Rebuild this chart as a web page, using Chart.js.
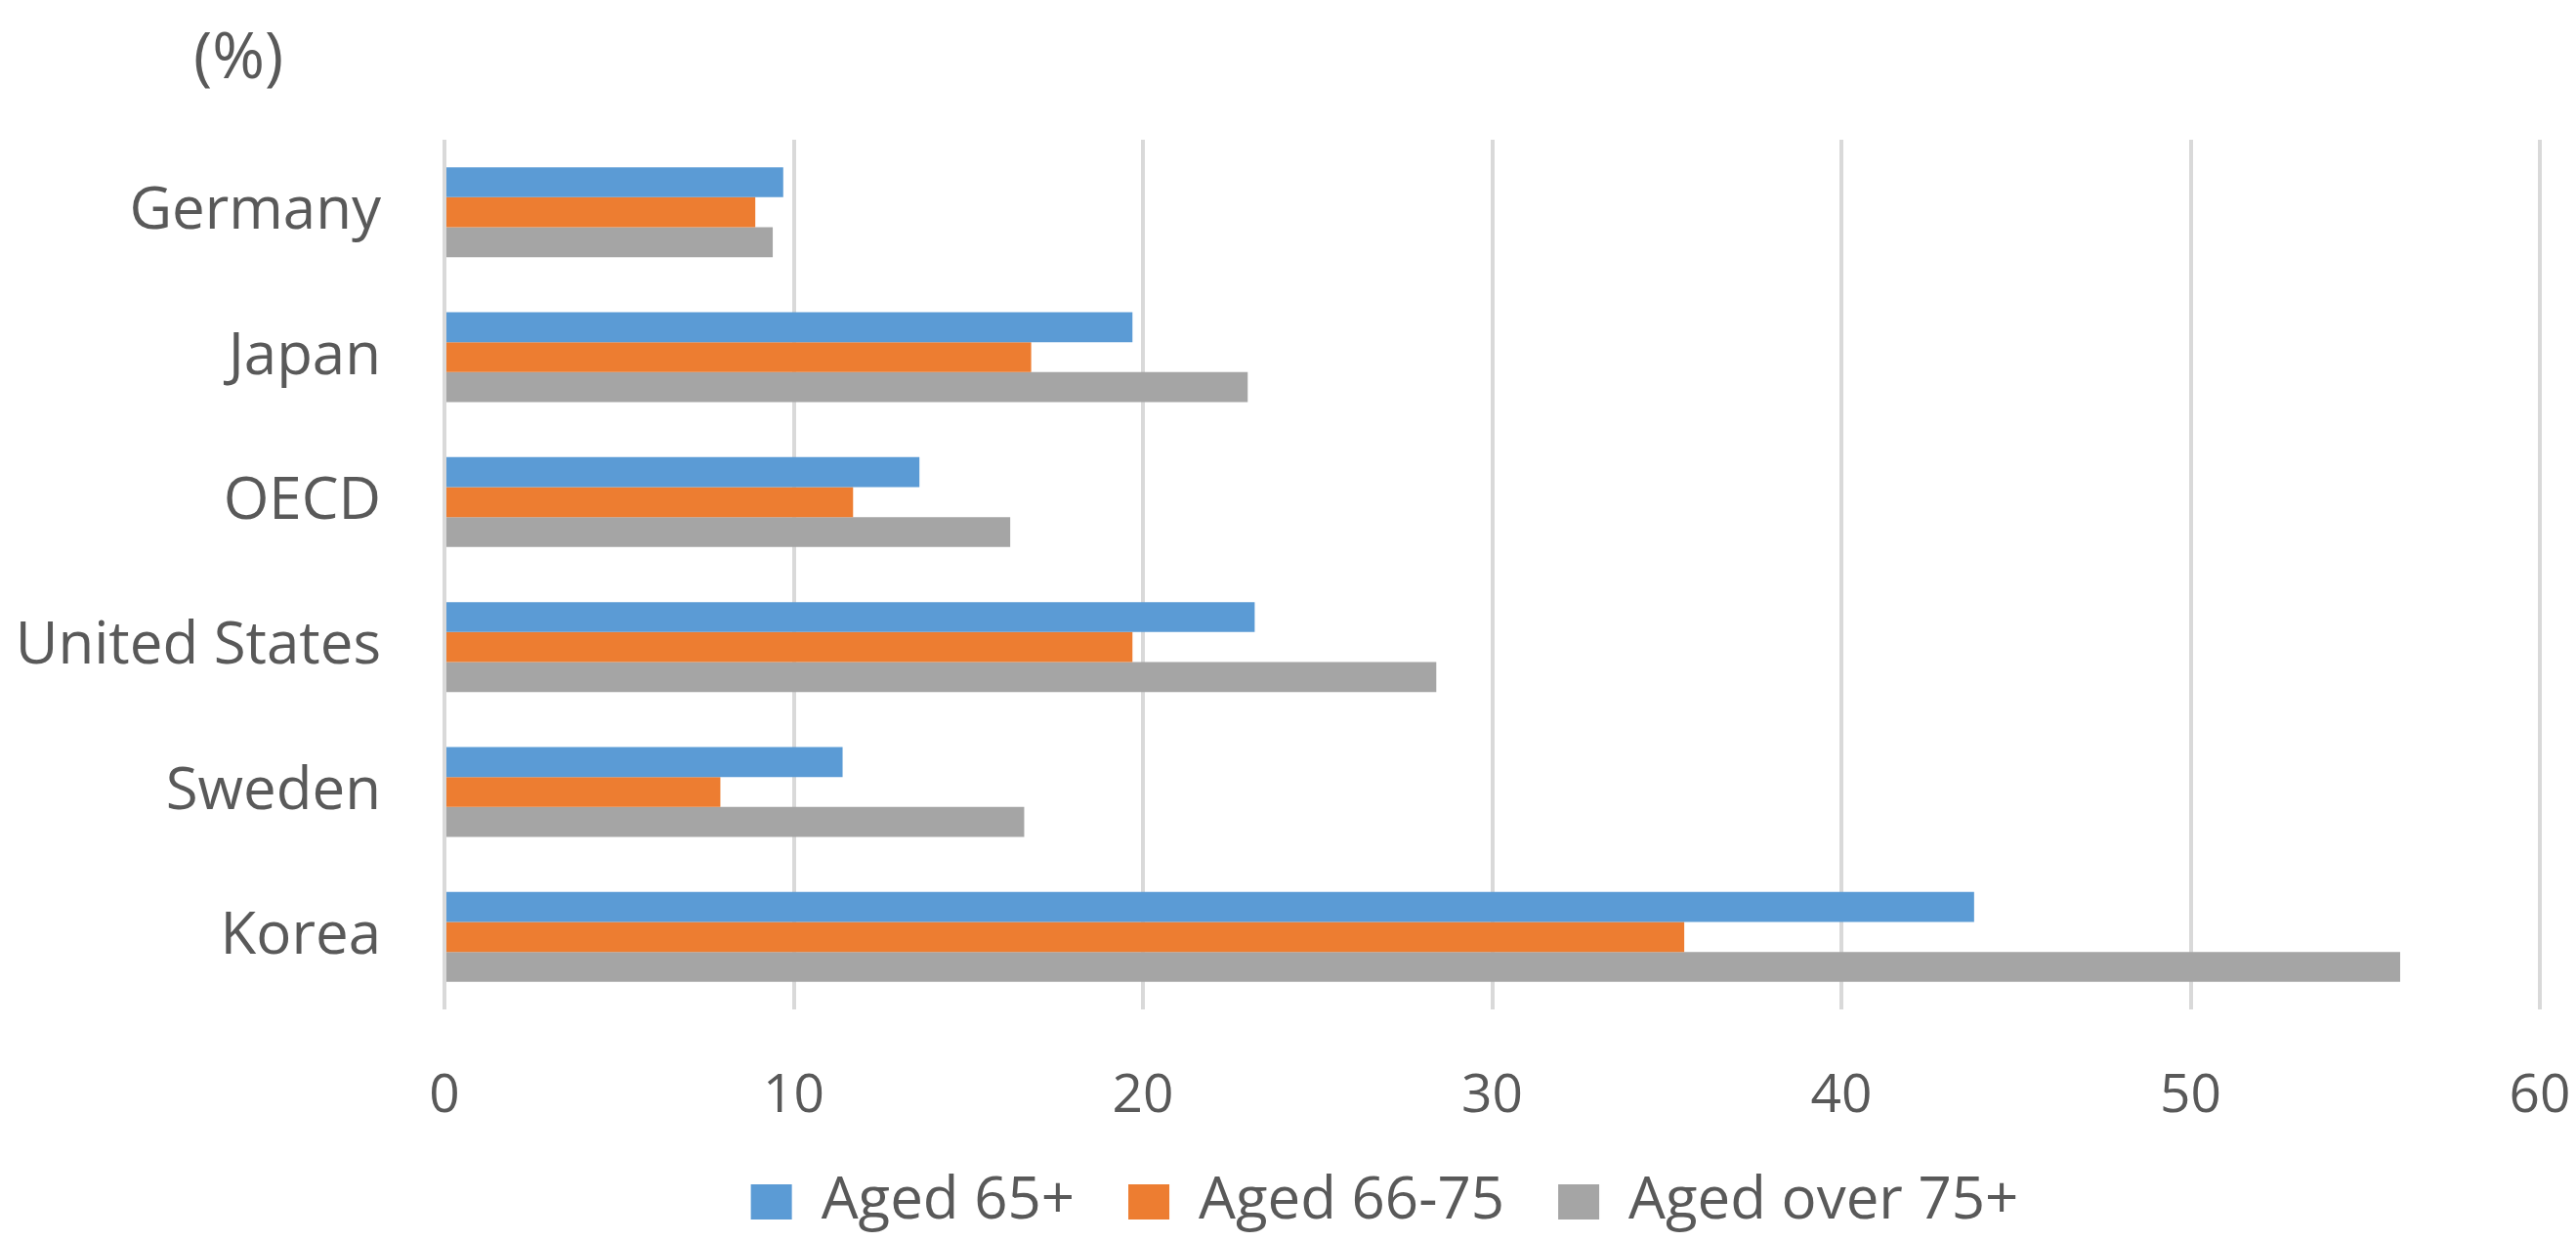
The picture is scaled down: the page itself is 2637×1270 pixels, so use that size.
<!DOCTYPE html>
<html>
<head>
<meta charset="utf-8">
<script src="https://cdn.jsdelivr.net/npm/chart.js@4.4.0/dist/chart.umd.min.js"></script>
<style>
  html, body { margin:0; padding:0; background:#fff; }
  #wrap { width:2637px; height:1270px; position:relative; }
</style>
</head>
<body>
<div id="wrap"><canvas id="chartAged"></canvas></div>
<script>
// Categorias (de arriba a abajo) y series
const paises = ['Germany', 'Japan', 'OECD', 'United States', 'Sweden', 'Korea'];
const aged65 = [9.7, 19.7, 13.6, 23.2, 11.4, 43.8];
const aged66_75 = [8.9, 16.8, 11.7, 19.7, 7.9, 35.5];
const agedOver75 = [9.4, 23.0, 16.2, 28.4, 16.6, 56.0];
const xTicks = [0, 10, 20, 30, 40, 50, 60];

const txt = '#595959';
Chart.defaults.font.family = "'Open Sans', sans-serif";
Chart.defaults.color = txt;

// el titulo (%) y la leyenda van algo corridos a la derecha, como en el original
const shiftBoxes = {
  id: 'shiftBoxes',
  afterLayout(chart) {
    chart.titleBlock.left += 198; chart.titleBlock.right += 198;
    chart.legend.left += 99; chart.legend.right += 99;
  }
};

new Chart(document.getElementById('chartAged'), {
  type: 'bar',
  data: {
    labels: paises,
    datasets: [
      { label: 'Aged 65+', data: aged65, backgroundColor: '#5B9BD5' },
      { label: 'Aged 66-75', data: aged66_75, backgroundColor: '#ED7D31' },
      { label: 'Aged over 75+', data: agedOver75, backgroundColor: '#A5A5A5' }
    ]
  },
  plugins: [shiftBoxes],
  options: {
    indexAxis: 'y',
    responsive: true,
    maintainAspectRatio: false,
    animation: false,
    datasets: { bar: { categoryPercentage: 0.62, barPercentage: 1, borderWidth: 0 } },
    layout: { padding: 0 },
    plugins: {
      title: {
        display: true, text: '(%)', align: 'start', color: txt,
        font: { size: 65, weight: 'normal' },
        padding: { top: 22, bottom: 43 }
      },
      legend: {
        position: 'bottom',
        labels: { boxWidth: 42, boxHeight: 36, padding: 55, color: txt, font: { size: 60 } }
      },
      tooltip: { enabled: false }
    },
    scales: {
      x: {
        min: 0, max: 60,
        afterBuildTicks: s => { s.ticks = xTicks.map(v => ({ value: v })); },
        afterFit: s => { s.height = 112; s.paddingLeft = 0; s.paddingRight = 37; },
        grid: { color: '#D9D9D9', lineWidth: 4, drawTicks: false },
        border: { display: false },
        ticks: { padding: 56, font: { size: 55 }, color: txt }
      },
      y: {
        afterFit: s => { s.width = 455; },
        grid: { display: false, drawTicks: false },
        border: { display: false },
        ticks: { padding: 65, font: { size: 60 }, color: txt }
      }
    }
  }
});
</script>
</body>
</html>
